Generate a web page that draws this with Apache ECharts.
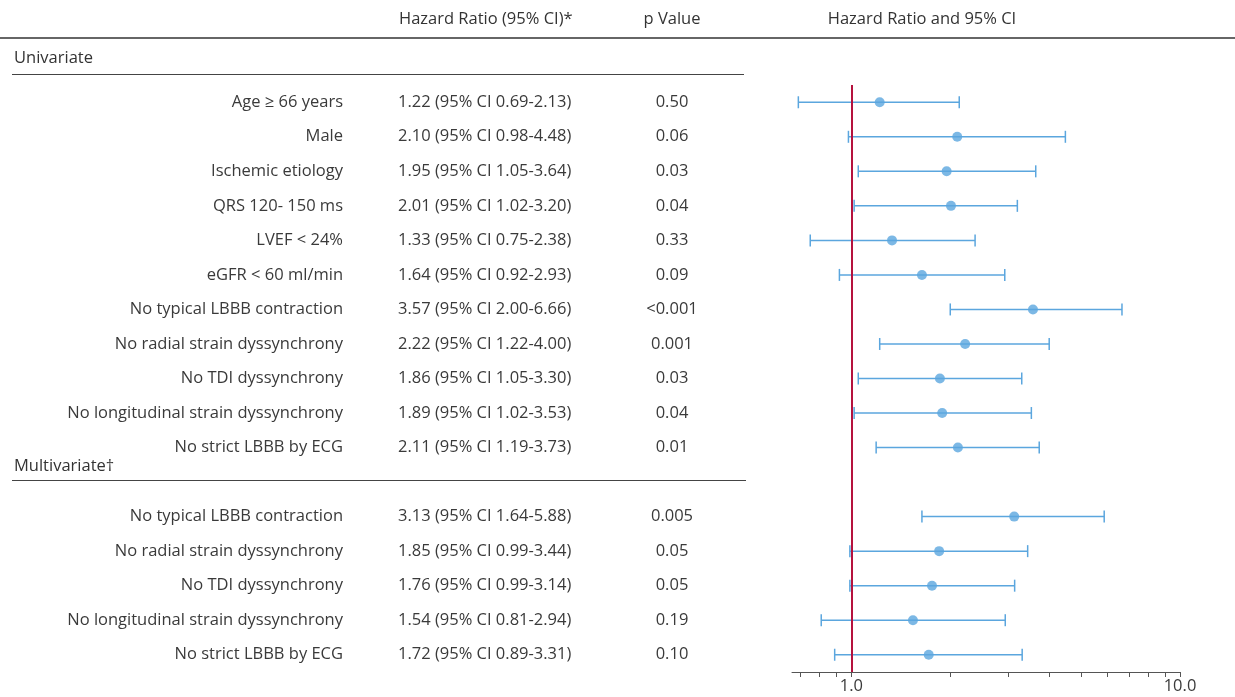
<!DOCTYPE html>
<html><head><meta charset="utf-8">
<script src="https://cdn.jsdelivr.net/npm/echarts@6/dist/echarts.min.js"></script>
<style>html,body{margin:0;padding:0;background:#fff}#c{width:1235px;height:697px}</style>
</head><body><div id="c"></div>
<script>
const rowLabels = [
  'Age \u2265 66 years','Male','Ischemic etiology','QRS 120- 150 ms','LVEF < 24%','eGFR < 60 ml/min',
  'No typical LBBB contraction','No radial strain dyssynchrony','No TDI dyssynchrony',
  'No longitudinal strain dyssynchrony','No strict LBBB by ECG','',
  'No typical LBBB contraction','No radial strain dyssynchrony','No TDI dyssynchrony',
  'No longitudinal strain dyssynchrony','No strict LBBB by ECG'
];
const hr     = [1.22,2.10,1.95,2.01,1.33,1.64,3.57,2.22,1.86,1.89,2.11,null,3.13,1.85,1.76,1.54,1.72];
const ciLow  = [0.69,0.98,1.05,1.02,0.75,0.92,2.00,1.22,1.05,1.02,1.19,null,1.64,0.99,0.99,0.81,0.89];
const ciHigh = [2.13,4.48,3.64,3.20,2.38,2.93,6.66,4.00,3.30,3.53,3.73,null,5.88,3.44,3.14,2.94,3.31];
const pValues = ['0.50','0.06','0.03','0.04','0.33','0.09','<0.001','0.001','0.03','0.04','0.01','',
  '0.005','0.05','0.05','0.19','0.10'];
const tickValues = [0.7,0.8,0.9,1,2,3,4,5,6,7,8,9,10];
const labelValues = [1,10];

const hrText = hr.map((v,i)=> v==null ? '' :
  v.toFixed(2)+' (95% CI '+ciLow[i].toFixed(2)+'-'+ciHigh[i].toFixed(2)+')');

const FONT = '"Open Sans", "Noto Sans", sans-serif';
const FS = 16.5;
const TXT = '#3a3a3a';
const BLUE = '#5ba6de';
const RED = '#b5123e';

const chart = echarts.init(document.getElementById('c'));
const pts = [], bars = [];
hr.forEach((v,i)=>{ if(v!=null){ pts.push([v,i]); bars.push([i,ciLow[i],ciHigh[i]]); } });

const yBase = {type:'category', position:'left', inverse:true, axisLine:{show:false}, axisTick:{show:false}, splitLine:{show:false}};
const lbl = (align)=>({show:true, margin:0, align:align, color:TXT, fontSize:FS, fontFamily:FONT, interval:0});

chart.setOption({
  animation:false,
  textStyle:{fontFamily:FONT},
  grid:{left:792, right:55, top:85, bottom:25, containLabel:false, outerBoundsMode:'none'},
  xAxis:{type:'log', logBase:10, min:0.66, max:10,
    axisLine:{show:true, lineStyle:{color:'#555', width:1}},
    axisTick:{show:true, customValues:tickValues, length:5, inside:false, lineStyle:{color:'#555'}},
    axisLabel:{customValues:labelValues, formatter:(v)=> Number(v).toFixed(1), color:TXT, fontSize:FS, fontFamily:FONT, margin:6},
    splitLine:{show:false}, minorTick:{show:false}},
  yAxis:[
    Object.assign({}, yBase, {data:rowLabels, offset:449, axisLabel:lbl('right')}),
    Object.assign({}, yBase, {data:hrText, offset:394, axisLabel:lbl('left')}),
    Object.assign({}, yBase, {data:pValues, offset:120, axisLabel:lbl('center')})
  ],
  graphic:[
    {type:'text', style:{text:'Hazard Ratio (95% CI)*', x:399, y:19, align:'left', verticalAlign:'middle', font:'500 '+FS+'px '+FONT, fill:'#333'}},
    {type:'text', style:{text:'p Value', x:672, y:19, align:'center', verticalAlign:'middle', font:'500 '+FS+'px '+FONT, fill:'#333'}},
    {type:'text', style:{text:'Hazard Ratio and 95% CI', x:922, y:19, align:'center', verticalAlign:'middle', font:'500 '+FS+'px '+FONT, fill:'#333'}},
    {type:'text', style:{text:'Univariate', x:14, y:58, align:'left', verticalAlign:'middle', font:'500 '+FS+'px '+FONT, fill:'#333'}},
    {type:'text', style:{text:'Multivariate\u2020', x:14, y:466, align:'left', verticalAlign:'middle', font:'500 '+FS+'px '+FONT, fill:'#333'}},
    {type:'line', shape:{x1:0,y1:38,x2:1235,y2:38}, style:{stroke:'#666', lineWidth:2}},
    {type:'line', shape:{x1:12,y1:74.5,x2:744,y2:74.5}, style:{stroke:'#444', lineWidth:1}},
    {type:'line', shape:{x1:12,y1:480.5,x2:746,y2:480.5}, style:{stroke:'#444', lineWidth:1}}
  ],
  series:[
    {type:'custom', yAxisIndex:0, data:bars, encode:{x:[1,2], y:0}, z:2,
      renderItem:(params, api)=>{
        const y = api.value(0);
        const a = api.coord([api.value(1), y]);
        const b = api.coord([api.value(2), y]);
        const h = 6;
        const st = {stroke:BLUE, lineWidth:1.5};
        return {type:'group', children:[
          {type:'line', shape:{x1:a[0],y1:a[1],x2:b[0],y2:b[1]}, style:st},
          {type:'line', shape:{x1:a[0],y1:a[1]-h,x2:a[0],y2:a[1]+h}, style:st},
          {type:'line', shape:{x1:b[0],y1:b[1]-h,x2:b[0],y2:b[1]+h}, style:st}
        ]};
      }},
    {type:'scatter', yAxisIndex:0, data:pts, symbol:'circle', symbolSize:10, z:4,
      itemStyle:{color:BLUE},
      markLine:{silent:true, symbol:'none', label:{show:false}, z:3,
        lineStyle:{color:RED, width:2, type:'solid'}, data:[{xAxis:1}]}}
  ]
});
</script></body></html>
